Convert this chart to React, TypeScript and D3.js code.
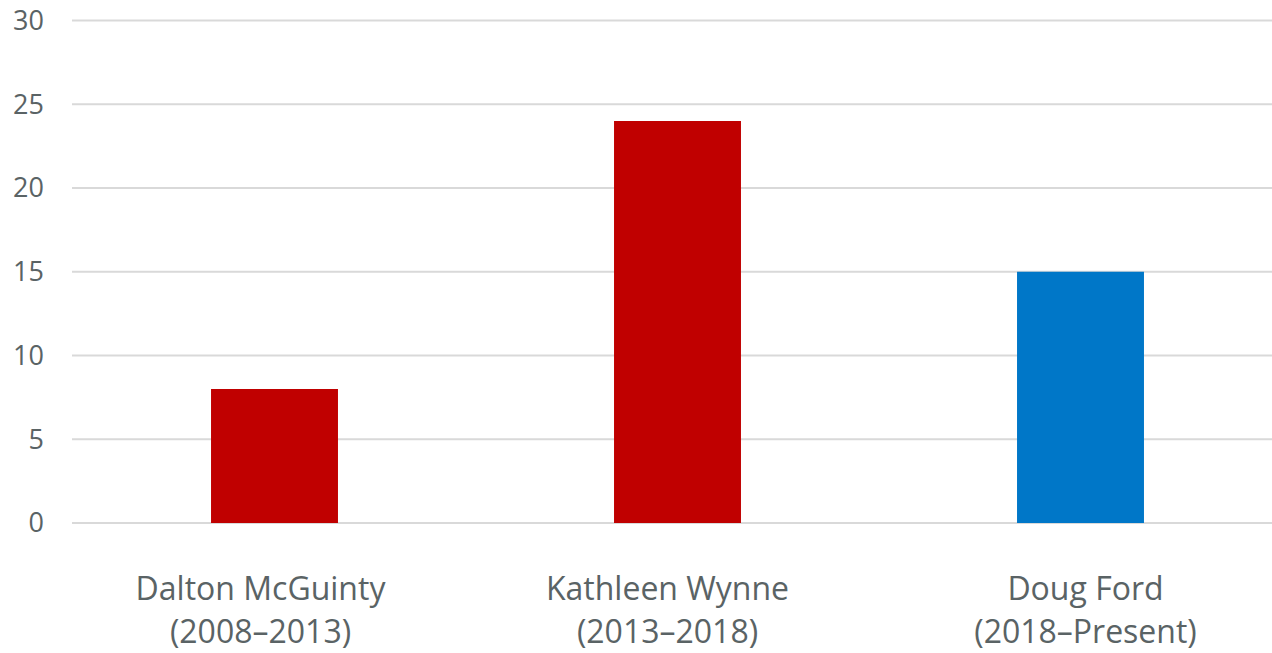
import React, { useEffect, useRef } from "react";
import * as d3 from "d3";

const categories = ["Dalton McGuinty", "Kathleen Wynne", "Doug Ford"];
const periods = ["(2008\u20132013)", "(2013\u20132018)", "(2018\u2013Present)"];
const values = [8, 24, 15];
const barColors = ["#C00000", "#C00000", "#0077C8"];
const yTicks = [0, 5, 10, 15, 20, 25, 30];

const W = 1272;
const H = 653;
// small horizontal nudges of the category labels, as in the original layout
const labelShift = [-14, -10, 5];

export default function App() {
  const ref = useRef<SVGSVGElement>(null);
  useEffect(() => {
    const svg = d3.select(ref.current);
    svg.selectAll("*").remove();
    const left = 72;
    const x = d3.scaleBand<string>().domain(categories).range([73, 73 + 403 * 3]).paddingInner(0.685).paddingOuter(0.3425);
    const y = d3.scaleLinear().domain([0, 30]).range([523, 20.5]);
    const font = "'Open Sans', sans-serif";
    const textColor = "#5A6365";

    svg.append("g").selectAll("line").data(yTicks).join("line")
      .attr("x1", left).attr("x2", W)
      .attr("y1", (d) => y(d)).attr("y2", (d) => y(d))
      .attr("stroke", "#D9D9D9").attr("stroke-width", 2);

    svg.append("g").selectAll("text").data(yTicks).join("text")
      .attr("x", 44).attr("y", (d) => y(d)).attr("dy", "0.35em")
      .attr("text-anchor", "end").attr("font-family", font).attr("font-size", 27)
      .attr("fill", textColor).text((d) => String(d));

    svg.append("g").selectAll("rect").data(values).join("rect")
      .attr("x", (_, i) => x(categories[i])!)
      .attr("width", x.bandwidth())
      .attr("y", (d) => y(d))
      .attr("height", (d) => y(0) - y(d))
      .attr("fill", (_, i) => barColors[i]);

    const cx = (d: string, i: number) => x(d)! + x.bandwidth() / 2 + labelShift[i];
    const lab = svg.append("g").selectAll("text").data(categories).join("text")
      .attr("text-anchor", "middle").attr("font-family", font).attr("font-size", 32)
      .attr("fill", textColor);
    lab.each(function (d, i) {
      const t = d3.select(this);
      t.append("tspan").attr("x", cx(d, i)).attr("y", 600).text(d);
      t.append("tspan").attr("x", cx(d, i)).attr("y", 643).text(periods[i]);
    });
  }, []);
  return (
    <svg ref={ref} width={W} height={H} style={{ position: "absolute", left: 0, top: 0, background: "#fff" }} />
  );
}
